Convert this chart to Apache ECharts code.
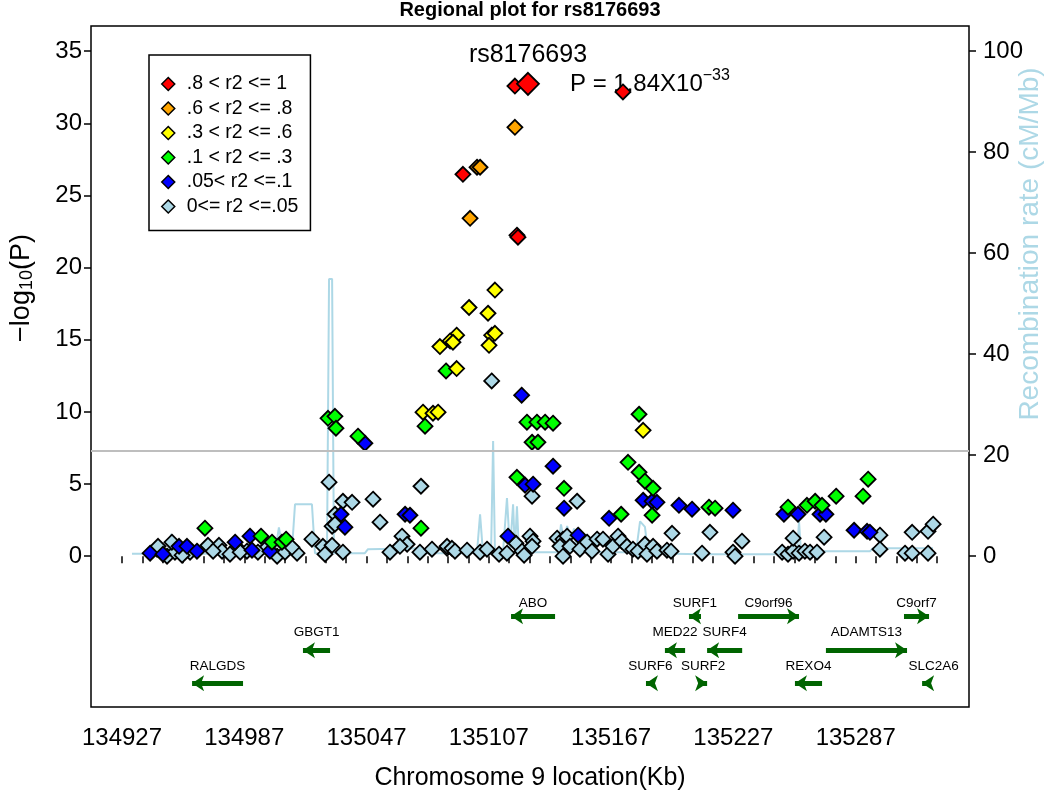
<!DOCTYPE html>
<html><head><meta charset="utf-8">
<script src="https://cdn.jsdelivr.net/npm/echarts@6/dist/echarts.min.js"></script>
<style>html,body{margin:0;padding:0;background:#fff}#c{width:1050px;height:792px}</style>
</head><body><div id="c"></div>
<script>
// ---------------- data ----------------
const xTickLabels = [134927, 134987, 135047, 135107, 135167, 135227, 135287];
const yTickLabels = [0, 5, 10, 15, 20, 25, 30, 35];
const y2TickLabels = [0, 20, 40, 60, 80, 100];
const genomeWideLine = 7.3;

const r2Classes = ['.8 < r2 <= 1', '.6 < r2 <= .8', '.3 < r2 <= .6', '.1 < r2 <= .3', '.05< r2 <=.1', '0<= r2 <=.05'];
const r2Colors = ['#FF0000', '#FFA500', '#FFFF00', '#00FF00', '#0000FF', '#ADD8E6'];

const indexSnpName = 'rs8176693';
const indexSnp = [135126.2, 32.74];
const indexP = '1.84X10';
const indexPExp = '\u221233';

const snpRed = [[135119.8,32.59],[135172.8,32.18],[135094.3,26.47],[135120.8,22.25],[135121.3,22.11]];
const snpOrange = [[135101.2,26.96],[135102.7,26.96],[135119.8,29.73],[135097.8,23.42]];
const snpYellow = [[135110.0,18.45],[135097.3,17.24],[135106.6,16.84],[135091.2,15.32],[135088.0,14.92],[135089.4,14.83],[135083.0,14.53],[135108.4,15.32],[135110.0,15.45],[135107.1,14.62],[135091.2,13.01],[135074.7,9.98],[135079.6,9.91],[135082.1,9.98],[135182.7,8.73]];
const snpGreen = [[135086.0,12.84],[135075.7,9.01],[135125.7,9.29],[135130.6,9.29],[135134.6,9.29],[135138.5,9.22],[135028.1,9.56],[135031.5,9.70],[135032.0,8.87],[135042.8,8.32],[135128.2,7.90],[135131.1,7.90],[135180.7,9.84],[135175.3,6.51],[135180.7,5.82],[135183.6,5.20],[135187.6,4.71],[135120.8,5.47],[135143.9,4.71],[135171.9,2.91],[135187.1,2.84],[135215.0,3.40],[135218.0,3.33],[135073.7,1.94],[134967.7,1.94],[134995.2,1.39],[135000.6,0.97],[135005.5,0.97],[135007.5,1.18],[135253.8,3.40],[135263.1,3.53],[135267.1,3.81],[135270.5,3.53],[135277.4,4.16],[135290.6,4.16],[135293.1,5.34]];
const snpBlue = [[135123.1,11.16],[135046.2,7.83],[135138.5,6.24],[135124.8,4.92],[135128.7,4.99],[135143.9,3.33],[135166.0,2.63],[135182.7,3.88],[135187.1,3.81],[135189.5,3.74],[135200.3,3.53],[135206.7,3.26],[135226.8,3.19],[135116.4,1.39],[135150.8,1.46],[135065.9,2.91],[135068.3,2.84],[135034.5,2.91],[135036.4,2.01],[134940.8,0.21],[134947.1,0.14],[134955.0,0.69],[134958.9,0.69],[134963.8,0.35],[134982.5,0.97],[134989.8,1.39],[134990.8,0.42],[134999.6,0.35],[135251.8,2.91],[135258.7,2.91],[135269.5,2.91],[135272.4,2.91],[135286.2,1.80],[135292.6,1.73],[135294.0,1.66]];
const snpLightBlue = [[135108.4,12.15],[135028.6,5.13],[135073.7,4.85],[135128.2,4.16],[135150.3,3.81],[135035.4,3.81],[135039.9,3.74],[135050.2,3.95],[135031.5,2.91],[135030.1,2.08],[135031.5,2.22],[135053.6,2.36],[135064.4,1.39],[135066.9,0.83],[135058.5,0.28],[135086.5,0.55],[135020.2,1.18],[135025.6,0.69],[135030.1,0.76],[135026.6,0.14],[135035.4,0.28],[135196.9,1.59],[135215.5,1.66],[134969.2,0.76],[134974.6,0.76],[134976.1,0.35],[135003.1,0.0],[135007.0,0.28],[135012.9,0.21],[134944.2,0.49],[134949.1,0.0],[134953.0,0.28],[134960.4,0.28],[134944.7,0.69],[134971.7,0.35],[134983.4,0.62],[134988.3,0.35],[134998.2,0.62],[135063.4,0.69],[135086.5,0.69],[135088.9,0.55],[135090.4,0.35],[135096.3,0.42],[135102.7,0.28],[135106.1,0.49],[135112.0,0.14],[135115.9,0.21],[135120.3,0.90],[135123.3,0.35],[135124.3,0.07],[135127.2,1.39],[135128.7,1.04],[135128.2,0.69],[135140.5,1.25],[135143.4,1.18],[135141.9,0.69],[135143.4,0.0],[135145.4,1.39],[135146.8,0.69],[135151.7,0.49],[135155.2,0.97],[135157.6,0.35],[135160.1,1.18],[135163.0,1.18],[135165.5,0.14],[135167.9,0.69],[135170.4,1.39],[135172.3,1.04],[135174.8,0.69],[135177.7,0.49],[135180.2,0.35],[135183.6,0.83],[135184.6,0.14],[135187.6,0.69],[135189.5,0.35],[135194.4,0.42],[135196.4,0.35],[135211.6,0.21],[135226.8,0.28],[135227.8,0.0],[135231.2,1.04],[135250.9,0.28],[135253.8,0.14],[135256.3,0.35],[135259.2,0.21],[135262.1,0.35],[135264.6,0.28],[135268.0,0.28],[135256.3,1.25],[135271.5,1.32],[135298.9,1.46],[135298.9,0.49],[135311.2,0.21],[135314.7,0.21],[135314.7,1.66],[135322.5,0.21],[135322.5,1.73],[135325.0,2.22],[135073.2,0.28],[135079.1,0.49],[134951.5,0.97],[134956.5,0.07],[134980.0,0.14],[134985.0,0.28],[134993.7,0.28],[135010.4,0.62]];

const recombPos = [134931.9,134945.7,134949.6,134951.1,134952.5,134965.3,135002.1,135004.0,135006.0,135010.4,135011.9,135020.2,135021.7,135027.6,135028.6,135030.1,135031.0,135046.2,135047.7,135073.2,135074.7,135097.8,135101.2,135102.7,135104.1,135108.1,135109.1,135110.0,135114.0,135115.9,135117.4,135118.9,135119.8,135120.8,135121.8,135140.9,135142.4,135143.9,135145.4,135147.3,135148.8,135150.3,135179.2,135181.2,135183.6,135185.1,135210.6,135258.2,135259.2,135260.2,135270.5,135271.5,135294.0,135295.5,135324.9];
const recombRate = [0.5,0.5,0.8,4.4,0.8,0.5,0.6,5.7,1.0,1.2,10.3,10.3,0.6,0.6,54.9,54.9,0.6,0.6,1.4,1.6,0.6,0.6,0.8,8.3,0.8,0.8,22.8,0.8,1.0,11.5,1.0,10.3,1.0,9.9,0.8,0.8,6.3,3.0,6.0,3.5,5.5,0.8,0.8,6.9,5.8,0.6,0.4,0.4,6.9,0.6,0.6,1.0,1.0,1.6,1.6];

const geneNames  = ['RALGDS','GBGT1','ABO','SURF6','MED22','SURF1','SURF2','SURF4','C9orf96','REXO4','ADAMTS13','C9orf7','SLC2A6'];
const geneStart  = [134961.4,135015.8,135117.9,135184.1,135193.4,135205.2,135210.2,135214.1,135229.3,135257.2,135272.4,135310.7,135319.6];
const geneEnd    = [134986.4,135029.1,135139.5,135188.5,135203.3,135211.1,135214.1,135231.3,135259.2,135270.5,135312.2,135323.0,135322.0];
const geneStrand = [-1,-1,-1,-1,-1,-1,1,-1,1,-1,1,1,-1];
const geneRow    = [3,2,1,3,2,1,3,2,1,3,2,1,3];

// ---------------- layout / style ----------------
const FONT = "'Liberation Sans', Arial, Helvetica, sans-serif";
const X_MIN = 134911.8, X_MAX = 135342.6;
const Y_MIN = -10.45, Y_MAX = 36.75;
const Y2_MIN = Y_MIN * 100 / 35, Y2_MAX = Y_MAX * 100 / 35;
const rowArrowY = {1: -4.16, 2: -6.51, 3: -8.80};
const rowLabelY = {1: -3.26, 2: -5.27, 3: -7.62};
const geneLabelShift = {SLC2A6: [9, 0]};

const xMinorTicks = [];
for (let v = xTickLabels[0]; v <= 135327; v += 10) xMinorTicks.push(v);

const snpSets = [snpRed, snpOrange, snpYellow, snpGreen, snpBlue, snpLightBlue];

const chart = echarts.init(document.getElementById('c'), null, {renderer: 'canvas'});

const series = [];
// recombination rate
series.push({
  type: 'line', name: 'recomb', yAxisIndex: 1, z: 1, silent: true,
  showSymbol: false, symbol: 'none',
  lineStyle: {color: '#ADD8E6', width: 2},
  data: recombPos.map((p, i) => [p, recombRate[i]]),
  markLine: {silent: true, symbol: 'none', label: {show: false},
    lineStyle: {color: '#BEBEBE', width: 2, type: 'solid'},
    data: [{yAxis: genomeWideLine * 100 / 35}]}
});
// SNPs: draw light blue first, red last
for (let k = 5; k >= 0; k--) {
  const s = {
    type: 'scatter', name: r2Classes[k], z: 3, symbol: 'diamond', symbolSize: 15,
    itemStyle: {color: r2Colors[k], borderColor: '#000', borderWidth: 1.8, opacity: 1},
    emphasis: {disabled: true},
    data: snpSets[k].map(d => d.slice())
  };
  if (k === 0) s.data.push({value: indexSnp, symbolSize: 22});
  series.push(s);
}
// genes
series.push({
  type: 'lines', name: 'genes', coordinateSystem: 'cartesian2d', z: 2, silent: true,
  symbol: ['none', 'arrow'], symbolSize: 12,
  lineStyle: {color: '#006400', width: 5, opacity: 1, curveness: 0},
  data: geneNames.map((g, i) => {
    const y = rowArrowY[geneRow[i]];
    const a = geneStrand[i] > 0 ? geneStart[i] : geneEnd[i];
    const b = geneStrand[i] > 0 ? geneEnd[i] : geneStart[i];
    return {name: g, coords: [[a, y], [b, y]]};
  })
});

const option = {
  animation: false,
  backgroundColor: '#fff',
  title: {text: 'Regional plot for ' + indexSnpName, left: 530, top: 0, padding: 0, textAlign: 'center',
    textStyle: {fontSize: 20, fontWeight: 'bold', color: '#000', fontFamily: FONT}},
  grid: {left: 91, right: 81, top: 26, bottom: 85, show: true, borderColor: '#000', borderWidth: 1.5,
    backgroundColor: 'transparent', containLabel: false},
  legend: {
    orient: 'vertical', left: 149, top: 55, data: r2Classes, selectedMode: false,
    itemWidth: 13, itemHeight: 13, itemGap: 4.5,
    itemStyle: {borderColor: '#000', borderWidth: 1.5},
    textStyle: {fontSize: 19.5, color: '#000', fontFamily: FONT, padding: [0, 0, 0, 7]},
    borderColor: '#000', borderWidth: 1.5, borderRadius: 0, padding: [19, 12, 14, 12],
    backgroundColor: '#fff'
  },
  xAxis: {
    type: 'value', min: X_MIN, max: X_MAX,
    axisLine: {show: false},
    axisTick: {show: true, customValues: xMinorTicks, length: 7, lineStyle: {color: '#000', width: 1.5}},
    axisLabel: {customValues: xTickLabels, formatter: v => String(v), fontSize: 24, color: '#000', margin: 19, fontFamily: FONT},
    splitLine: {show: false}
  },
  yAxis: [{
    type: 'value', min: Y_MIN, max: Y_MAX, position: 'left',
    axisLine: {show: false},
    axisTick: {show: true, customValues: yTickLabels, length: 7, lineStyle: {color: '#000', width: 1.5}},
    axisLabel: {customValues: yTickLabels, formatter: v => String(v), fontSize: 24, color: '#000', margin: 9, fontFamily: FONT},
    splitLine: {show: false}
  }, {
    type: 'value', min: Y2_MIN, max: Y2_MAX, position: 'right',
    axisLine: {show: false},
    axisTick: {show: true, customValues: y2TickLabels, length: 7, lineStyle: {color: '#000', width: 1.5}},
    axisLabel: {customValues: y2TickLabels, formatter: v => String(v), fontSize: 24, color: '#000', margin: 14, fontFamily: FONT},
    splitLine: {show: false}
  }],
  series: series
};
chart.setOption(option);

// texts anchored to data through the library's own scales
const toPx = v => chart.convertToPixel({xAxisIndex: 0, yAxisIndex: 0}, v);
const ip = toPx(indexSnp);
const graphics = [
  {type: 'text', x: 530, y: 778, silent: true,
    style: {text: 'Chromosome 9 location(Kb)', font: '25px ' + FONT, fill: '#000', align: 'center', verticalAlign: 'middle'}},
  {type: 'text', x: 22, y: 288, rotation: Math.PI / 2, silent: true,
    style: {text: '{a|\u2212log}{b|10}{a|(P)}', align: 'center', verticalAlign: 'middle',
      rich: {a: {font: '27px ' + FONT, fill: '#000'}, b: {font: '18px ' + FONT, fill: '#000', padding: [11, 0, 0, 0]}}}},
  {type: 'text', x: 1030, y: 244, rotation: Math.PI / 2, silent: true,
    style: {text: 'Recombination rate (cM/Mb)', font: '28px ' + FONT, fill: '#ADD8E6', align: 'center', verticalAlign: 'middle'}},
  {type: 'text', x: ip[0], y: ip[1] - 29, z: 1, silent: true,
    style: {text: indexSnpName, font: '25px ' + FONT, fill: '#000', align: 'center', verticalAlign: 'middle'}},
  {type: 'text', x: ip[0] + 42, y: ip[1] + 1, z: 1, silent: true,
    style: {text: '{a|P = ' + indexP + '}{s|' + indexPExp + '}', align: 'left', verticalAlign: 'middle',
      rich: {a: {font: '24px ' + FONT, fill: '#000'}, s: {font: '16px ' + FONT, fill: '#000', padding: [0, 0, 18, 0]}}}}
];
geneNames.forEach((g, i) => {
  const p = toPx([(geneStart[i] + geneEnd[i]) / 2, rowLabelY[geneRow[i]]]);
  const sh = geneLabelShift[g] || [0, 0];
  graphics.push({type: 'text', x: p[0] + sh[0], y: p[1] + sh[1], silent: true,
    style: {text: g, font: '13.5px ' + FONT, fill: '#000', align: 'center', verticalAlign: 'middle'}});
});
chart.setOption({graphic: graphics});
</script>
</body></html>
